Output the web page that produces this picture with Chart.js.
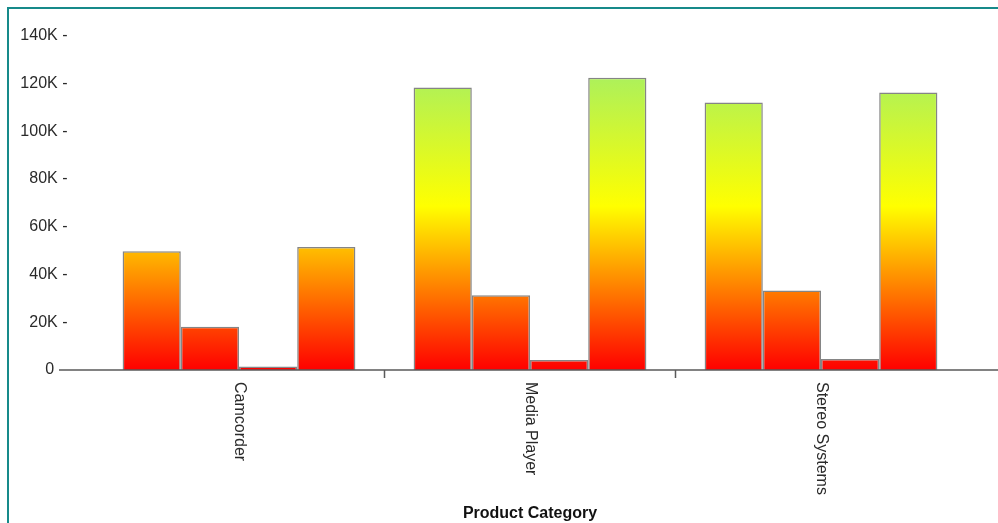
<!DOCTYPE html>
<html>
<head>
<meta charset="utf-8">
<script src="https://cdn.jsdelivr.net/npm/chart.js@4"></script>
<style>
  html, body { margin: 0; padding: 0; background: #fff; }
  #wrap { width: 998px; height: 523px; position: relative; }
</style>
</head>
<body>
<div id="wrap"><canvas id="myChart"></canvas></div>
<script>
const categories = ['Camcorder', 'Media Player', 'Stereo Systems'];
const series1 = [49700, 118300, 112000];
const series2 = [18100, 31300, 33300];
const series3 = [1500, 4200, 4600];
const series4 = [51500, 122400, 116200];
const yMax = 140000;
const yStep = 20000;

Chart.defaults.font.family = "'Liberation Sans', Arial, sans-serif";
Chart.defaults.font.size = 16;
Chart.defaults.color = '#2a2a2a';

function barFill(context) {
    const chart = context.chart;
    if (!chart.chartArea) return '#ff0000';
    const y = chart.scales.y;
    const g = chart.ctx.createLinearGradient(0, y.getPixelForValue(0), 0, y.getPixelForValue(yMax));
    g.addColorStop(0, '#ff0000');
    g.addColorStop(0.49, '#ffff00');
    g.addColorStop(1, '#92ec78');
    return g;
}

// frame, baseline, category separators and rotated category labels
const decorations = {
    id: 'decorations',
    beforeDraw(chart) {
        const c = chart.ctx;
        c.save();
        c.fillStyle = '#168a8a';
        c.fillRect(7, 7, 2, chart.height);
        c.fillRect(7, 7, chart.width, 2);
        c.restore();
    },
    afterDatasetsDraw(chart) {
        const c = chart.ctx;
        const x = chart.scales.x;
        const base = chart.scales.y.getPixelForValue(0);
        c.save();
        c.strokeStyle = '#5a5a5a';
        c.lineWidth = 1.5;
        c.beginPath();
        c.moveTo(59, base);
        c.lineTo(chart.width, base);
        for (let i = 0; i < categories.length - 1; i++) {
            const sx = Math.round((x.getPixelForValue(i) + x.getPixelForValue(i + 1)) / 2) - 0.5;
            c.moveTo(sx, base);
            c.lineTo(sx, base + 8);
        }
        c.stroke();

        c.fillStyle = '#2a2a2a';
        c.font = "16px 'Liberation Sans', Arial, sans-serif";
        c.textAlign = 'left';
        c.textBaseline = 'middle';
        categories.forEach((label, i) => {
            c.save();
            c.translate(x.getPixelForValue(i), base + 12);
            c.rotate(Math.PI / 2);
            c.fillText(label, 0, 0);
            c.restore();
        });
        c.restore();
    }
};

const ctx = document.getElementById('myChart').getContext('2d');
window.myChart = new Chart(ctx, {
    type: 'bar',
    data: {
        labels: categories,
        datasets: [series1, series2, series3, series4].map((d, i) => ({
            label: 'Series ' + (i + 1),
            data: d,
            backgroundColor: barFill,
            borderColor: '#858585',
            borderWidth: 1.5,
            categoryPercentage: 0.8,
            barPercentage: 1.0
        }))
    },
    options: {
        responsive: true,
        maintainAspectRatio: false,
        animation: false,
        layout: { padding: { top: 35, right: 31.5, left: 0, bottom: 0 } },
        plugins: {
            legend: { display: false },
            tooltip: { enabled: false }
        },
        scales: {
            x: {
                grid: { display: false, drawTicks: false },
                border: { display: false },
                ticks: { display: false },
                title: {
                    display: true,
                    text: 'Product Category',
                    font: { size: 16, weight: 'bold' },
                    color: '#111',
                    padding: { top: 0, bottom: 0 }
                },
                afterFit(scale) { scale.height = 153; }
            },
            y: {
                min: 0,
                max: yMax,
                grid: { display: false, drawTicks: false },
                border: { display: false },
                ticks: {
                    stepSize: yStep,
                    padding: 26,
                    callback: v => v === 0 ? '0   ' : (v / 1000) + 'K -'
                },
                afterFit(scale) { scale.width = 93.5; }
            }
        }
    },
    plugins: [decorations]
});
</script>
</body>
</html>
